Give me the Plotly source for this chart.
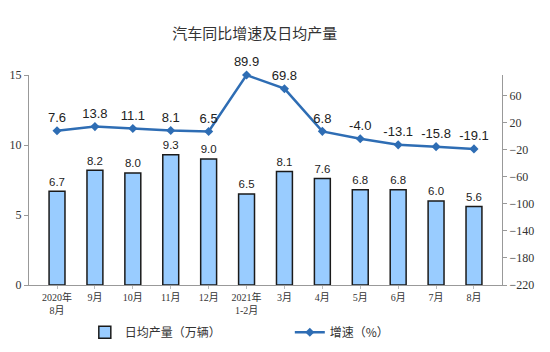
import plotly.graph_objects as go

categories = ["2020年<br>8月", "9月", "10月", "11月", "12月", "2021年<br>1-2月",
              "3月", "4月", "5月", "6月", "7月", "8月"]
daily_output = [6.7, 8.2, 8.0, 9.3, 9.0, 6.5, 8.1, 7.6, 6.8, 6.8, 6.0, 5.6]
growth = [7.6, 13.8, 11.1, 8.1, 6.5, 89.9, 69.8, 6.8, -4.0, -13.1, -15.8, -19.1]
left_ticks = [0, 5, 10, 15]
right_ticks = [-220, -180, -140, -100, -60, -20, 20, 60]

label_font = dict(family="Arial, Liberation Sans, sans-serif", size=13, color="#222")
axis_font = dict(family="Liberation Serif, DejaVu Serif, serif", size=12, color="#333")
cjk = "Noto Sans CJK SC"

fig = go.Figure()
fig.add_trace(go.Bar(
    x=categories, y=daily_output, name="日均产量（万辆）",
    marker=dict(color="#99CCFF", line=dict(color="#1a1a1a", width=1.5)),
    width=0.42,
    text=[f"{v:.1f}" for v in daily_output], textposition="outside",
    textfont=label_font, cliponaxis=False,
))
fig.add_trace(go.Scatter(
    x=categories, y=growth, name="增速（%）", yaxis="y2",
    mode="lines+markers+text",
    line=dict(color="#2E6DB4", width=2.5),
    marker=dict(symbol="diamond", size=7, color="#2E6DB4"),
    text=[f"{v:.1f}" for v in growth], textposition="top center",
    textfont=label_font, cliponaxis=False,
))

fig.update_layout(
    width=550, height=352,
    margin=dict(l=29, r=48, t=75, b=67, autoexpand=False),
    paper_bgcolor="white", plot_bgcolor="white",
    title=dict(text="汽车同比增速及日均产量", x=0.463, xanchor="center", y=0.905, yanchor="middle",
               font=dict(family=cjk, size=15, color="#333")),
    showlegend=True,
    legend=dict(orientation="h", x=0.118, xanchor="left", y=-0.225, yanchor="middle",
                entrywidth=160, entrywidthmode="pixels",
                font=dict(family=cjk, size=12, color="#333"),
                itemwidth=30, tracegroupgap=0, bgcolor="rgba(0,0,0,0)"),
    xaxis=dict(showline=True, linecolor="#999", linewidth=1, ticks="outside",
               tickcolor="#bbb", ticklen=3,
               tickfont=dict(family="Liberation Serif, Noto Sans CJK SC, serif", size=10, color="#333"),
               showgrid=False),
    yaxis=dict(range=[0, 15], tickvals=left_ticks, showline=True, linecolor="#999",
               linewidth=1, showgrid=False, tickfont=axis_font, ticks="outside",
               tickcolor="#999", ticklen=4, zeroline=False),
    yaxis2=dict(range=[-220, 90], tickvals=right_ticks, overlaying="y", side="right",
                showline=True, linecolor="#999", linewidth=1, showgrid=False,
                tickfont=axis_font, ticks="outside", tickcolor="#999", ticklen=4,
                zeroline=False),
)

fig.write_html("out.html")
